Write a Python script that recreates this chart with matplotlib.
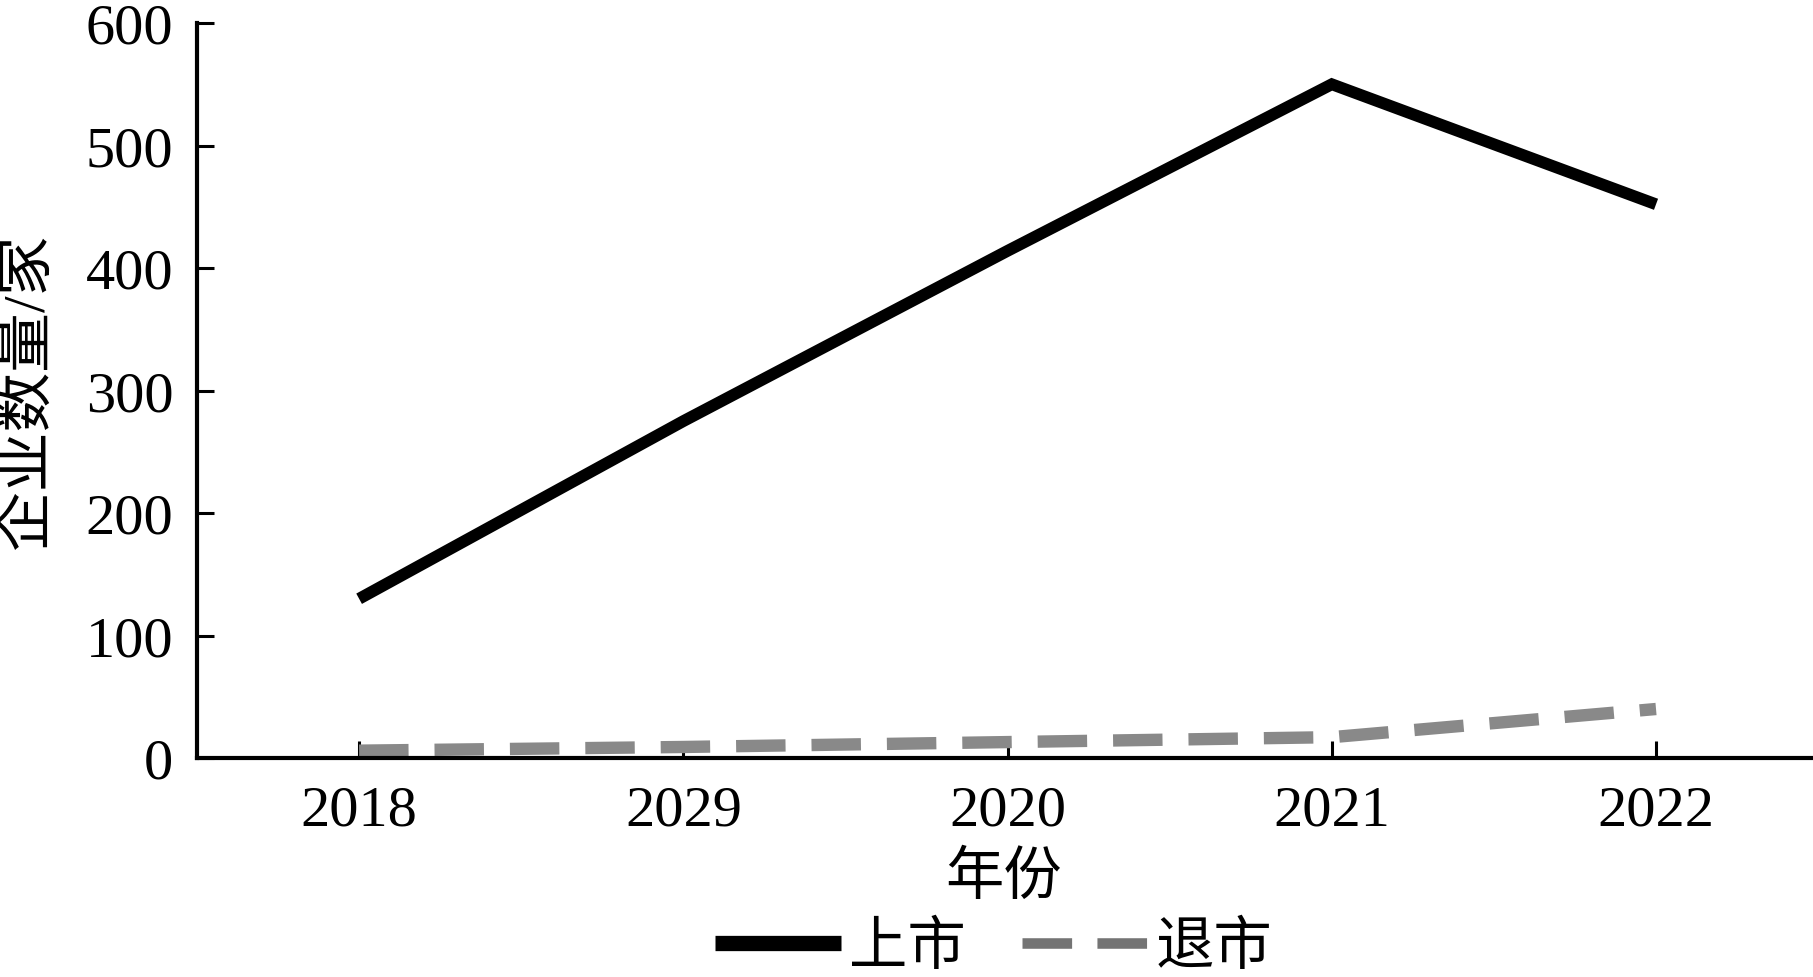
import matplotlib
matplotlib.use('Agg')
import matplotlib.pyplot as plt
from matplotlib.lines import Line2D

# values
years = ['2018', '2029', '2020', '2021', '2022']
listed = [130, 275, 414, 550, 452]      # 上市
delisted = [6, 9, 13, 17, 40]           # 退市
y_ticks = [0, 100, 200, 300, 400, 500, 600]


def main():
    plt.rcParams['font.family'] = ['Liberation Serif', 'Noto Sans CJK SC']
    plt.rcParams['axes.unicode_minus'] = False

    fig = plt.figure(figsize=(18.13, 9.78), dpi=100)
    ax = fig.add_axes([197 / 1813, 1 - 759 / 978, 1614 / 1813, 735 / 978])

    x = range(len(years))
    ax.plot(x, listed, color='black', lw=8.5,
            solid_capstyle='butt', solid_joinstyle='miter')
    ax.plot(x, delisted, color='#898989', lw=8.9,
            dashes=(4.0, 2.1), dash_capstyle='butt')

    ax.set_xlim(-0.5, 4.478)
    ax.set_ylim(0, 600)
    ax.set_xticks(list(x))
    ax.set_xticklabels(years)
    ax.set_yticks(y_ticks)

    for side in ['top', 'right']:
        ax.spines[side].set_visible(False)
    for side in ['left', 'bottom']:
        ax.spines[side].set_linewidth(3)

    ax.tick_params(axis='both', direction='in', length=12, width=2.2,
                   labelsize=42, colors='black')
    ax.tick_params(axis='y', pad=17)
    ax.tick_params(axis='x', pad=19)

    ax.set_xlabel('年份', fontsize=42)
    ax.xaxis.label.set_va('center')
    ax.xaxis.set_label_coords(0.5, -0.163)
    ax.set_ylabel('企业数量/家', fontsize=43)
    ax.yaxis.label.set_va('center')
    ax.yaxis.set_label_coords(-0.104, 0.5)

    handles = [
        Line2D([], [], color='black', lw=11, solid_capstyle='butt'),
        Line2D([], [], color='#747474', lw=7.6, dashes=(4.7, 2.4),
               dash_capstyle='butt'),
    ]
    fig.legend(handles, ['上市', '退市'], loc='center',
               bbox_to_anchor=(993.5 / 1813, 1 - 949 / 978), ncol=2,
               frameon=False, fontsize=42, handlelength=2.16,
               handletextpad=0.14, columnspacing=0.96, borderpad=0,
               borderaxespad=0)

    fig.savefig('out.png', dpi=100, facecolor='white')


if __name__ == "__main__":
    main()
